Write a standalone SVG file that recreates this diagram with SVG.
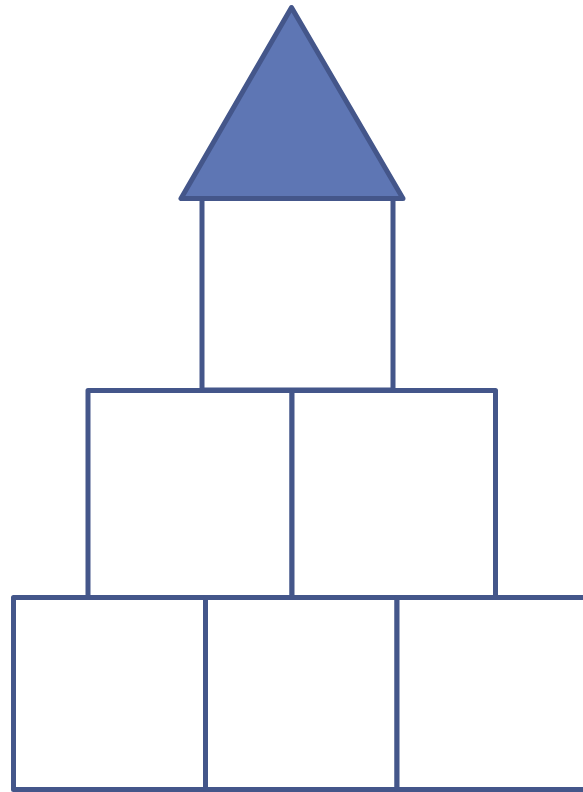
<svg xmlns="http://www.w3.org/2000/svg" width="583" height="792" viewBox="0 0 583 792">
<style>
.b{fill:#fff;stroke:#44568A;stroke-width:5;stroke-linejoin:round}
.t{fill:#5E76B4;stroke:#44568A;stroke-width:5;stroke-linejoin:round}
</style>
<rect width="583" height="792" fill="#fff"/>
<g id="tower"><rect class="b" x="202" y="198" width="191" height="192"/></g>
<g id="roof"><polygon class="t" points="291.5,7.5 181,198.5 403,198.5"/></g>
<g id="mid-left"><rect class="b" x="88" y="390.5" width="204" height="207"/></g>
<g id="mid-right"><rect class="b" x="292" y="390.5" width="203.5" height="207"/></g>
<g id="bot-left"><rect class="b" x="13.5" y="597.5" width="192" height="192"/></g>
<g id="bot-mid"><rect class="b" x="205.5" y="597.5" width="191.5" height="192"/></g>
<g id="bot-right"><rect class="b" x="397" y="597.5" width="192" height="192"/></g>
<g id="connectors"></g>
</svg>
